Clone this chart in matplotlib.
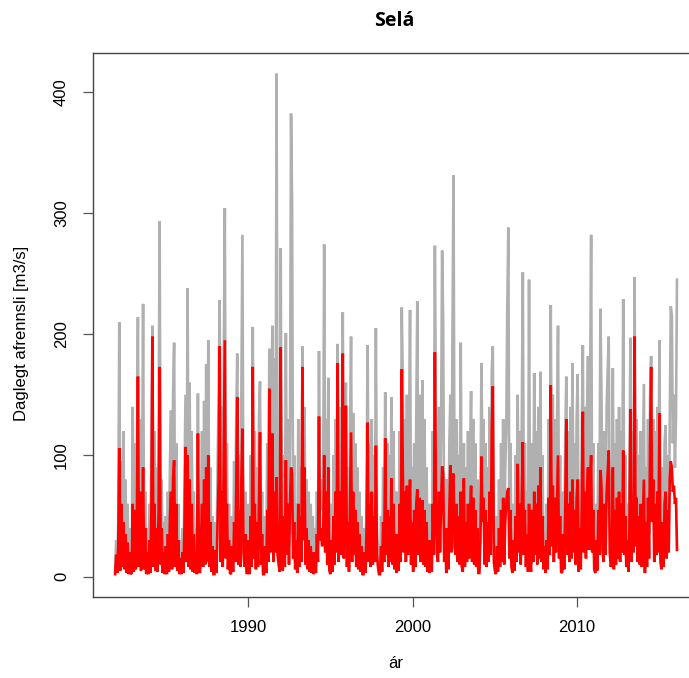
import numpy as np
from matplotlib import pyplot as plt

plt.rcParams['font.family'] = ['Liberation Sans', 'DejaVu Sans']

years = list(range(1982, 2016))

gray_q = [
    [4, 30, 8, 45, 210, 10, 95, 15, 120, 20, 80, 8, 60, 5, 40, 3],
    [6, 140, 10, 110, 15, 90, 214, 20, 130, 12, 60, 225, 15, 70, 5, 40],
    [4, 60, 8, 100, 207, 20, 120, 15, 90, 10, 110, 293, 25, 80, 6, 45],
    [5, 50, 4, 70, 10, 95, 137, 15, 150, 193, 20, 110, 10, 60, 4, 30],
    [3, 40, 6, 80, 150, 30, 238, 20, 160, 15, 120, 10, 70, 6, 40, 4],
    [151, 15, 6, 60, 120, 20, 145, 25, 175, 30, 195, 20, 90, 8, 50, 5],
    [4, 45, 8, 90, 150, 228, 30, 140, 20, 180, 304, 35, 110, 15, 60, 6],
    [5, 50, 10, 95, 30, 130, 184, 25, 100, 20, 150, 282, 45, 20, 70, 6],
    [6, 60, 4, 100, 20, 206, 40, 120, 15, 90, 20, 130, 161, 25, 70, 5],
    [4, 50, 6, 110, 30, 188, 45, 150, 207, 30, 180, 50, 415, 45, 25, 8],
    [271, 30, 10, 100, 20, 201, 40, 130, 25, 120, 382, 309, 35, 100, 15, 60],
    [6, 130, 20, 90, 30, 190, 55, 140, 25, 80, 15, 70, 10, 60, 8, 50],
    [4, 40, 6, 70, 30, 186, 60, 80, 55, 60, 274, 45, 130, 25, 164, 12],
    [5, 60, 8, 100, 25, 130, 45, 192, 30, 140, 40, 100, 218, 35, 120, 160],
    [20, 90, 8, 120, 198, 30, 135, 40, 110, 20, 90, 15, 70, 8, 50, 4],
    [4, 40, 6, 80, 191, 30, 110, 20, 130, 25, 100, 30, 205, 40, 20, 5],
    [5, 50, 10, 90, 30, 152, 40, 110, 20, 100, 30, 148, 25, 120, 15, 70],
    [6, 70, 12, 120, 30, 222, 160, 50, 130, 30, 150, 40, 110, 220, 25, 90],
    [10, 110, 20, 130, 227, 40, 150, 30, 120, 162, 25, 130, 20, 90, 8, 60],
    [6, 60, 10, 120, 40, 273, 130, 50, 30, 140, 45, 120, 269, 212, 30, 80],
    [6, 80, 15, 110, 150, 45, 200, 331, 60, 40, 130, 30, 100, 25, 193, 20],
    [10, 110, 20, 90, 30, 120, 35, 100, 153, 30, 130, 25, 110, 20, 80, 6],
    [6, 60, 176, 90, 130, 25, 110, 20, 90, 30, 140, 40, 170, 190, 30, 12],
    [5, 50, 10, 80, 20, 110, 30, 130, 25, 90, 120, 223, 288, 35, 110, 20],
    [6, 60, 12, 100, 30, 150, 45, 120, 25, 130, 251, 40, 110, 20, 70, 8],
    [245, 25, 10, 110, 30, 168, 40, 120, 25, 140, 35, 169, 30, 100, 15, 50],
    [6, 60, 15, 130, 40, 224, 55, 150, 30, 130, 45, 120, 207, 35, 100, 10],
    [6, 70, 15, 110, 165, 40, 120, 30, 140, 35, 176, 45, 110, 25, 130, 167],
    [10, 80, 15, 120, 191, 45, 140, 35, 130, 182, 50, 150, 282, 45, 110, 15],
    [6, 60, 12, 110, 40, 221, 150, 50, 30, 120, 40, 140, 170, 198, 45, 20],
    [30, 172, 15, 110, 25, 130, 35, 140, 30, 120, 45, 229, 40, 100, 20, 60],
    [10, 80, 197, 30, 120, 45, 247, 55, 130, 30, 100, 25, 120, 20, 90, 159],
    [6, 90, 20, 130, 35, 150, 182, 55, 130, 30, 120, 40, 140, 45, 195, 30],
    [15, 90, 20, 110, 125, 35, 100, 30, 130, 223, 215, 110, 150, 90, 130, 245],
]

red_q = [
    [2, 18, 3, 25, 106, 5, 60, 8, 45, 6, 35, 3, 28, 2, 20, 2],
    [3, 60, 4, 55, 6, 45, 165, 8, 70, 5, 35, 90, 6, 40, 2, 20],
    [2, 30, 3, 55, 198, 8, 60, 5, 40, 4, 55, 173, 10, 40, 3, 20],
    [2, 25, 2, 35, 4, 50, 70, 6, 80, 96, 8, 60, 5, 30, 2, 15],
    [2, 20, 3, 40, 107, 12, 100, 8, 80, 6, 60, 4, 35, 3, 20, 2],
    [118, 6, 3, 30, 60, 8, 80, 10, 90, 12, 100, 8, 45, 4, 25, 2],
    [2, 22, 3, 45, 80, 190, 12, 70, 8, 100, 195, 15, 60, 6, 30, 3],
    [2, 25, 4, 45, 12, 70, 148, 10, 55, 8, 80, 122, 20, 8, 35, 3],
    [3, 30, 2, 50, 8, 173, 15, 60, 6, 45, 8, 60, 119, 10, 35, 2],
    [2, 25, 3, 55, 12, 155, 20, 90, 118, 12, 70, 20, 82, 18, 10, 4],
    [189, 12, 5, 50, 8, 96, 18, 60, 10, 60, 90, 85, 15, 45, 6, 30],
    [3, 60, 8, 50, 12, 173, 30, 90, 10, 40, 6, 30, 4, 25, 3, 20],
    [2, 20, 3, 35, 12, 132, 30, 40, 25, 30, 100, 20, 70, 10, 90, 5],
    [2, 30, 4, 50, 10, 70, 20, 176, 12, 70, 18, 55, 184, 15, 60, 141],
    [8, 45, 4, 60, 119, 12, 70, 18, 55, 8, 45, 6, 35, 4, 25, 2],
    [2, 20, 3, 40, 127, 12, 60, 8, 70, 10, 50, 12, 108, 18, 8, 2],
    [2, 25, 4, 45, 12, 114, 18, 55, 8, 50, 12, 81, 10, 60, 6, 35],
    [3, 35, 5, 60, 12, 171, 90, 20, 70, 12, 75, 18, 55, 80, 10, 45],
    [4, 55, 8, 60, 72, 18, 65, 12, 55, 63, 10, 55, 8, 45, 4, 30],
    [3, 30, 4, 60, 18, 185, 65, 20, 12, 70, 20, 60, 91, 85, 12, 40],
    [3, 40, 6, 55, 92, 20, 80, 85, 25, 18, 60, 12, 50, 10, 70, 8],
    [4, 81, 8, 45, 12, 60, 15, 50, 75, 12, 65, 10, 55, 8, 40, 3],
    [3, 30, 99, 45, 65, 10, 55, 8, 45, 12, 70, 18, 122, 157, 12, 5],
    [2, 25, 4, 40, 8, 55, 12, 65, 10, 45, 60, 70, 73, 15, 55, 8],
    [3, 30, 5, 50, 12, 93, 20, 60, 10, 65, 111, 18, 55, 8, 35, 4],
    [60, 10, 4, 55, 12, 70, 18, 60, 10, 75, 15, 90, 12, 50, 6, 25],
    [3, 30, 6, 65, 18, 158, 25, 75, 12, 65, 20, 60, 100, 15, 50, 4],
    [3, 35, 6, 55, 130, 18, 60, 12, 70, 15, 80, 20, 55, 10, 65, 80],
    [4, 40, 6, 60, 136, 20, 70, 15, 65, 90, 22, 75, 100, 20, 55, 6],
    [3, 30, 5, 55, 18, 88, 75, 22, 12, 60, 18, 70, 85, 104, 20, 8],
    [12, 90, 6, 55, 10, 65, 15, 70, 12, 60, 20, 104, 18, 50, 8, 30],
    [4, 40, 138, 12, 60, 20, 198, 25, 65, 12, 50, 10, 60, 8, 45, 80],
    [3, 45, 8, 65, 15, 110, 173, 45, 80, 12, 60, 18, 70, 20, 135, 12],
    [6, 45, 8, 60, 70, 15, 55, 20, 80, 95, 90, 70, 75, 60, 65, 22],
]

x_ticks = [1990, 2000, 2010]
y_ticks = [0, 100, 200, 300, 400]

gray = np.array(gray_q, dtype=float).ravel()
red = np.array(red_q, dtype=float).ravel()
t_start, t_end = 1981.92, 2016.08
time = np.linspace(t_start, t_end, len(gray))

fig = plt.figure(figsize=(6.89, 6.78), dpi=100)
ax = fig.add_axes([0.1345, 0.1199, 0.8807, 0.8012])

ax.plot(time, gray, color='#b0b0b0', lw=1.9, solid_joinstyle='miter')
ax.plot(time, red, color='#ff0000', lw=1.9, solid_joinstyle='miter')

# R style 4% padding
span = t_end - t_start
ax.set_xlim(t_start - 0.04 * span, t_end + 0.04 * span)
hi = max(gray.max(), red.max())
ax.set_ylim(-0.04 * hi, 1.04 * hi)

ax.set_xticks(x_ticks)
ax.set_yticks(y_ticks)
ax.set_xticklabels([str(v) for v in x_ticks], fontsize=12)
ax.set_yticklabels([str(v) for v in y_ticks], fontsize=12, rotation=90, va='center')
ax.tick_params(direction='out', length=7, width=0.9, color='#555555', pad=10)

for s in ax.spines.values():
    s.set_color('#444444')
    s.set_linewidth(1.0)

fig.text(394 / 689, 1 - 25.7 / 678, 'Selá', fontsize=14, fontweight='bold',
         family=['Open Sans', 'DejaVu Sans'], ha='center', va='baseline')
fig.text(396 / 689, 1 - 668 / 678, 'ár', fontsize=12, ha='center', va='baseline')
fig.text(22 / 689, 1 - 333 / 678, 'Daglegt afrennsli [m3/s]', fontsize=12,
         rotation=90, ha='center', va='center')

fig.savefig('out.png', dpi=100)
